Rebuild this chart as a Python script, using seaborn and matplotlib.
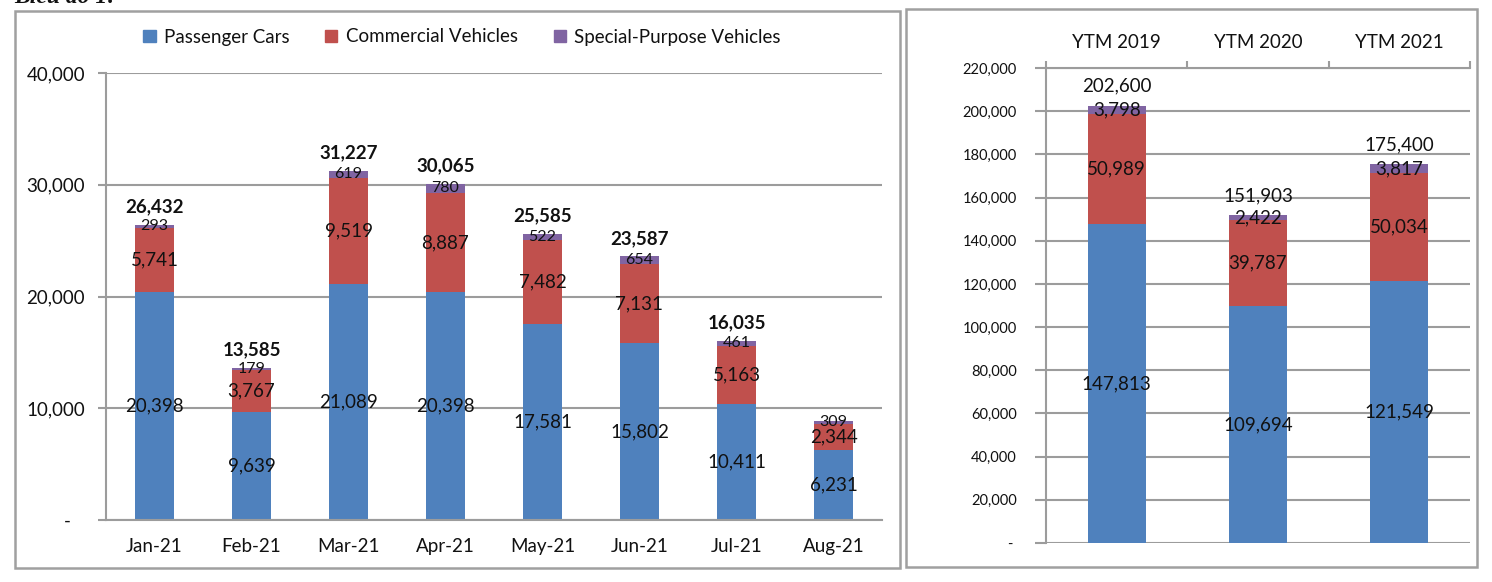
import numpy as np
import pandas as pd
import seaborn as sns
import matplotlib
matplotlib.use('Agg')
import matplotlib.pyplot as plt
from matplotlib.patches import Patch, Rectangle
from matplotlib.ticker import FuncFormatter

# monthly sales 2021
months = ['Jan-21', 'Feb-21', 'Mar-21', 'Apr-21', 'May-21', 'Jun-21', 'Jul-21', 'Aug-21']
passenger = [20398, 9639, 21089, 20398, 17581, 15802, 10411, 6231]
commercial = [5741, 3767, 9519, 8887, 7482, 7131, 5163, 2344]
special = [293, 179, 619, 780, 522, 654, 461, 309]
show_total = [True, True, True, True, True, True, True, False]

# year-to-month totals
periods = ['YTM 2019', 'YTM 2020', 'YTM 2021']
ytm_passenger = [147813, 109694, 121549]
ytm_commercial = [50989, 39787, 50034]
ytm_special = [3798, 2422, 3817]

BLUE = '#4F81BD'
RED = '#C0504D'
PURPLE = '#8064A2'
GRID = '#9C9C9C'
TXT = '#111111'
FS = 13.5

sns.set_theme(style='white')
plt.rcParams['font.family'] = ['Lato', 'DejaVu Sans']
plt.rcParams['text.color'] = TXT
plt.rcParams['xtick.color'] = TXT
plt.rcParams['ytick.color'] = TXT

W, H = 1492, 582
fig = plt.figure(figsize=(W / 100, H / 100), dpi=100)


def fx(px):
    return px / W


def fy(py):
    return 1 - py / H


def stacked(ax, cats, p, c, s):
    df = pd.DataFrame({'cat': cats, 'p': p, 'c': c, 's': s})
    df['pc'] = df.p + df.c
    df['total'] = df.pc + df.s
    # draw cumulative heights from the top layer down
    for col, colr in [('total', PURPLE), ('pc', RED), ('p', BLUE)]:
        sns.barplot(data=df, x='cat', y=col, order=cats, color=colr, saturation=1,
                    width=0.41, linewidth=0, errorbar=None, ax=ax)
    ax.set_xlabel('')
    ax.set_ylabel('')
    return df


def style_axes(ax, n):
    ax.set_axisbelow(True)
    ax.yaxis.grid(True, color=GRID, lw=1.5)
    ax.xaxis.grid(False)
    for sp in ax.spines.values():
        sp.set_visible(False)
        sp.set_color(GRID)
        sp.set_linewidth(1.5)
    ax.spines['left'].set_visible(True)
    ax.set_xticks(np.arange(-0.5, n, 1), minor=True)
    ax.tick_params(axis='x', which='major', length=0)
    ax.tick_params(axis='x', which='minor', length=5, width=1.5, color=GRID, direction='out')


# ---------------- left chart ----------------
axl = fig.add_axes([fx(106), fy(520), fx(882) - fx(106), fy(73) - fy(520)])
dl = stacked(axl, months, passenger, commercial, special)
style_axes(axl, len(months))
axl.spines['bottom'].set_visible(True)
axl.set_ylim(0, 40000)
axl.set_yticks(np.arange(0, 40001, 10000))
axl.yaxis.set_major_formatter(FuncFormatter(lambda v, _: '-   ' if v == 0 else f'{v:,.0f}'))
axl.tick_params(axis='y', length=6, width=1.5, color=GRID, left=True, pad=9, labelsize=FS)
axl.tick_params(axis='x', which='major', pad=13, labelsize=FS)

for i, r in dl.iterrows():
    axl.text(i, r.p / 2, f'{r.p:,}', ha='center', va='center', fontsize=FS)
    axl.text(i, r.p + r.c / 2, f'{r.c:,}', ha='center', va='center', fontsize=FS)
    axl.text(i, r.pc + r.s / 2, f'{r.s:,}', ha='center', va='center', fontsize=11.5)
    if show_total[i]:
        axl.annotate(f'{r.total:,}', (i, r.total), xytext=(0, 13), textcoords='offset points',
                     ha='center', va='center', fontsize=FS, fontweight='bold')

fig.legend(handles=[Patch(color=BLUE, label='Passenger Cars'),
                    Patch(color=RED, label='Commercial Vehicles'),
                    Patch(color=PURPLE, label='Special-Purpose Vehicles')],
           loc='center', bbox_to_anchor=(fx(462), fy(37)), ncol=3, frameon=False,
           fontsize=FS, handlelength=0.65, handleheight=0.65, handletextpad=0.45,
           columnspacing=1.9)

# ---------------- right chart ----------------
axr = fig.add_axes([fx(1046), fy(543), fx(1470) - fx(1046), fy(68) - fy(543)])
dr = stacked(axr, periods, ytm_passenger, ytm_commercial, ytm_special)
style_axes(axr, len(periods))
axr.spines['top'].set_visible(True)
axr.xaxis.tick_top()
axr.set_ylim(0, 220000)
axr.set_yticks(np.arange(0, 220001, 20000))
axr.yaxis.set_major_formatter(FuncFormatter(lambda v, _: '- ' if v == 0 else f'{v:,.0f}'))
axr.tick_params(axis='y', length=8, width=1.5, color=GRID, left=True, pad=13, labelsize=10.5)
axr.tick_params(axis='x', which='major', pad=12, labelsize=FS)

for i, r in dr.iterrows():
    axr.text(i, r.p / 2, f'{r.p:,}', ha='center', va='center', fontsize=FS)
    axr.text(i, r.p + r.c / 2, f'{r.c:,}', ha='center', va='center', fontsize=FS)
    axr.text(i, r.pc + r.s / 2, f'{r.s:,}', ha='center', va='center', fontsize=FS)
    axr.annotate(f'{r.total:,}', (i, r.total), xytext=(0, 14), textcoords='offset points',
                 ha='center', va='center', fontsize=FS)

# panel frames
fig.add_artist(Rectangle((fx(15), fy(568)), fx(900) - fx(15), fy(11) - fy(568),
                         transform=fig.transFigure, fill=False, ec='#A0A0A0', lw=1.8))
fig.add_artist(Rectangle((fx(906), fy(567)), fx(1477) - fx(906), fy(9) - fy(567),
                         transform=fig.transFigure, fill=False, ec='#A0A0A0', lw=1.8))

# heading cut off at the top edge
fig.text(fx(14), fy(3), 'Biểu đồ 1:', ha='left', va='baseline', fontsize=17,
         fontweight='bold', fontstyle='italic', family=['Liberation Serif', 'DejaVu Serif'])

fig.savefig('out.png', dpi=100)
